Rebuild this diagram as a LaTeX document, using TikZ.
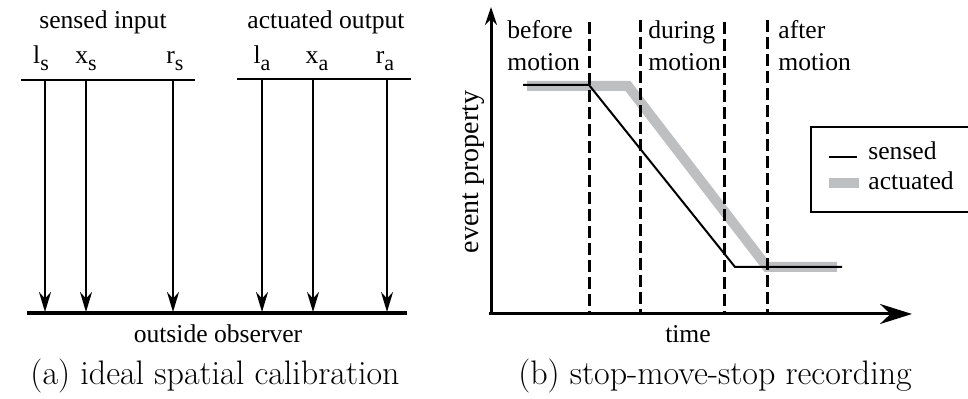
\documentclass[tikz,border=0pt]{standalone}
\usepackage{fontspec}
\usetikzlibrary{arrows.meta}
\newfontfamily\figfont{Liberation Serif}
\definecolor{actgray}{RGB}{190,191,193}
\newcommand{\sublbl}[2]{#1\raisebox{-3.5pt}{\fontsize{11}{11}\selectfont #2}}
\tikzset{
  txt/.style={font=\figfont\fontsize{12.8}{16}\selectfont, inner sep=0pt},
  capt/.style={font=\fontsize{17}{20}\selectfont, inner sep=0pt, anchor=base},
  ray/.style={line width=1pt, -{Stealth[length=10pt,width=6pt]}},
  phase/.style={line width=1.5pt, dash pattern=on 6pt off 2.5pt},
  sensedline/.style={line width=1pt},
  actuatedline/.style={line width=5pt, actgray},
}

\begin{document}
\begin{tikzpicture}[x=0.5pt, y=-0.5pt]
    \useasboundingbox (0,0) rectangle (968,399);

    % --- 1. (a) 上下兩條基準線 ---
    \coordinate (sL) at (21,80);
    \coordinate (sR) at (195,80);
    \coordinate (aL) at (237,79);
    \coordinate (aR) at (411,79);
    \coordinate (oL) at (27,313);
    \coordinate (oR) at (407,313);
    \draw[line width=1pt] (sL) -- (sR);
    \draw[line width=1pt] (aL) -- (aR);
    \draw[line width=1.8pt] (oL) -- (oR);

    % --- 2. 各點射向外部觀察者 ---
    \foreach \nm/\x in {ls/45, xs/86, rs/173, la/262, xa/313, ra/387} {
        \coordinate (\nm top) at (\x,80);
        \coordinate (\nm bot) at (\x,312);
        \draw[ray] (\nm top) -- (\nm bot);
    }

    % --- 3. (a) 標籤 ---
    \node[txt, anchor=base] (sin) at (103,29) {sensed input};
    \node[txt, anchor=base] (aout) at (326,29) {actuated output};
    \node[txt, anchor=base] (ls) at (41,64) {\sublbl{l}{s}};
    \node[txt, anchor=base] (xs) at (86,64) {\sublbl{x}{s}};
    \node[txt, anchor=base] (rs) at (175,64) {\sublbl{r}{s}};
    \node[txt, anchor=base] (la) at (262,64) {\sublbl{l}{a}};
    \node[txt, anchor=base] (xa) at (317,64) {\sublbl{x}{a}};
    \node[txt, anchor=base] (ra) at (385,64) {\sublbl{r}{a}};
    \node[txt, anchor=base] (obs) at (218,343) {outside observer};
    \node[capt] (capa) at (215,385) {(a) ideal spatial calibration};

    % --- 4. (b) 座標軸 ---
    \coordinate (O) at (491,314);
    \coordinate (Ytip) at (491,7);
    \coordinate (Xstart) at (489,314);
    \coordinate (Xtip) at (912,314);
    \draw[line width=1.5pt, -{Stealth[length=9pt,width=6pt]}] (O) -- (Ytip);
    \draw[line width=1.5pt, -{Stealth[length=16pt,width=10pt]}] (Xstart) -- (Xtip);
    \node[txt, font=\figfont\fontsize{14}{16}\selectfont, rotate=90, anchor=base] (yl) at (478,172) {event property};
    \node[txt, anchor=base] (xl) at (688,343) {time};

    % --- 5. 兩條曲線 ---
    \draw[actuatedline] (527,86) -- (628,86) -- (767,267) -- (837,267);
    \draw[sensedline] (523,85) -- (589,85) -- (735,267) -- (842,267);

    % --- 6. 各階段分隔虛線 ---
    \foreach \nm/\x/\t in {p1/589/22, p2/640/20, p3/724/22, p4/767/20} {
        \coordinate (\nm top) at (\x,\t);
        \coordinate (\nm bot) at (\x,313);
        \draw[phase] (\nm top) -- (\nm bot);
    }
    \node[txt, align=left, anchor=north west] (before) at (507,20) {before\\motion};
    \node[txt, align=left, anchor=north west] (during) at (648,20) {during\\motion};
    \node[txt, align=left, anchor=north west] (after) at (778,20) {after\\motion};

    % --- 7. 圖例 ---
    \draw[line width=1pt] (970,127) -- (811,127) -- (811,212) -- (970,212);
    \coordinate (kS1) at (829,157);
    \coordinate (kS2) at (857,157);
    \coordinate (kA1) at (829,183);
    \coordinate (kA2) at (859,183);
    \draw[sensedline] (kS1) -- (kS2);
    \draw[actgray, line width=5pt] (kA1) -- (kA2);
    \node[txt, anchor=base west] (ks) at (868,160) {sensed};
    \node[txt, anchor=base west] (ka) at (868,190) {actuated};
    \node[capt] (capb) at (715,385) {(b) stop-move-stop recording};

\end{tikzpicture}
\end{document}
